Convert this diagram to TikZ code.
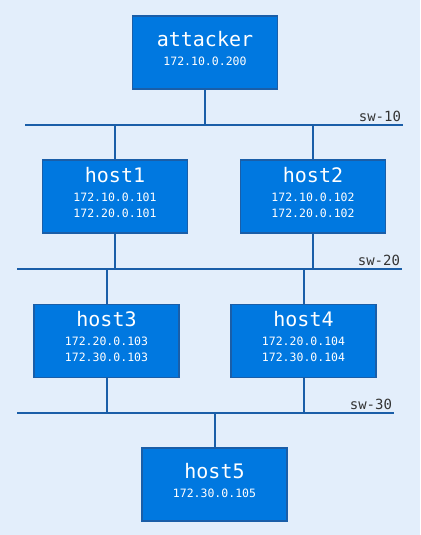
\documentclass[tikz,border=0pt]{standalone}
\usepackage{fontspec}
\setmonofont{DejaVu Sans Mono}
\usetikzlibrary{positioning}
\definecolor{bgblue}{HTML}{E3EEFB}
\definecolor{boxblue}{HTML}{0078E0}
\definecolor{linkblue}{HTML}{1A5EA8}
\definecolor{labelgray}{HTML}{333333}
\newcommand{\hostname}[1]{{\fontsize{20}{22}\selectfont #1}}
\tikzset{every picture/.style={line width=1pt},
  hostbox/.style={draw=linkblue,line width=1.5pt,fill=boxblue,text=white,minimum width=145,minimum height=73,inner sep=0pt,text depth=9pt,align=center,font=\ttfamily\fontsize{11.5}{16}\selectfont},
  bus/.style={draw=linkblue,line width=2pt},
  link/.style={draw=linkblue,line width=2pt},
  swlabel/.style={anchor=south east,inner sep=2pt,xshift=1pt,text=labelgray,font=\ttfamily\fontsize{14}{16}\selectfont}}

\begin{document}
\begin{tikzpicture}[x=1pt,y=-1pt]
\fill[bgblue] (0,0) rectangle (420,535);
% hosts
\node[hostbox] (attacker) at (205,52.5) {\hostname{attacker}\\[3pt]172.10.0.200};
\node[hostbox] (host1) at (115,196.5) {\hostname{host1}\\[3pt]172.10.0.101\\172.20.0.101};
\node[hostbox] (host2) at (313,196.5) {\hostname{host2}\\[3pt]172.10.0.102\\172.20.0.102};
\node[hostbox] (host3) at (106.5,341) {\hostname{host3}\\[3pt]172.20.0.103\\172.30.0.103};
\node[hostbox] (host4) at (303.5,341) {\hostname{host4}\\[3pt]172.20.0.104\\172.30.0.104};
\node[hostbox] (host5) at (214.5,484.5) {\hostname{host5}\\[3pt]172.30.0.105};
% switches
\coordinate (sw10w) at (25,125);
\coordinate (sw10e) at (403,125);
\coordinate (sw20w) at (17,269);
\coordinate (sw20e) at (402,269);
\coordinate (sw30w) at (17,413);
\coordinate (sw30e) at (394,413);
\draw[bus] (sw10w) -- (sw10e) node[swlabel] {sw-10};
\draw[bus] (sw20w) -- (sw20e) node[swlabel] {sw-20};
\draw[bus] (sw30w) -- (sw30e) node[swlabel] {sw-30};
% links
\draw[link] (attacker) -- (attacker |- sw10w);
\draw[link] (host1) -- (host1 |- sw10w);
\draw[link] (host2) -- (host2 |- sw10w);
\draw[link] (host1) -- (host1 |- sw20w);
\draw[link] (host2) -- (host2 |- sw20w);
\draw[link] (host3) -- (host3 |- sw20w);
\draw[link] (host4) -- (host4 |- sw20w);
\draw[link] (host3) -- (host3 |- sw30w);
\draw[link] (host4) -- (host4 |- sw30w);
\draw[link] (host5) -- (host5 |- sw30w);
\end{tikzpicture}
\end{document}
